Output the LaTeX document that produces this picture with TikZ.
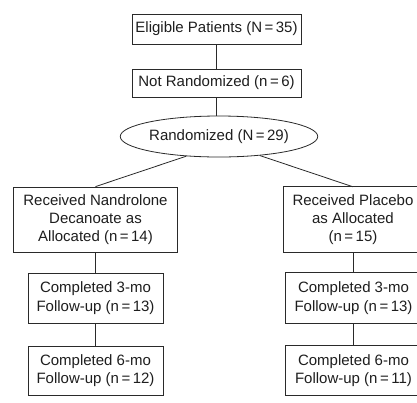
\documentclass[tikz,border=0pt]{standalone}
\usepackage{fontspec}
\setmainfont{Liberation Sans}
\usetikzlibrary{shapes.geometric}
\definecolor{inkline}{HTML}{2A2A2A}
\definecolor{inktext}{HTML}{1E1E1E}
\begin{document}
\begin{tikzpicture}[x=1pt,y=-1pt,
  every node/.style={font=\fontsize{15}{18.3}\selectfont, text=inktext, align=center, inner sep=0pt},
  boxnode/.style={draw=inkline, line width=0.8pt, rectangle},
  openbox/.style={rectangle},
  ovalnode/.style={draw=inkline, line width=0.8pt, ellipse},
  link/.style={draw=inkline, line width=0.8pt}]
\useasboundingbox (0,0) rectangle (417,402);
\clip (0,0) rectangle (417,402);
\fill[white] (0,0) rectangle (417,402);

% top of the flow
\node[boxnode, minimum width=169pt, minimum height=30pt] (elig) at (216.5,29) {Eligible Patients (N\,=\,35)};
\node[boxnode, minimum width=169pt, minimum height=28pt] (notrand) at (216.5,83) {Not Randomized (n\,=\,6)};
\node[ovalnode, minimum width=182pt, minimum height=41pt] (rand) at (219,136.5) {Randomized (N\,=\,29)};

% nandrolone arm
\node[boxnode, minimum width=164pt, minimum height=65pt] (nand) at (95.5,219.5) {Received Nandrolone\\Decanoate as\\Allocated (n\,=\,14)};
\node[boxnode, minimum width=135pt, minimum height=50pt] (nthree) at (95.5,298) {Completed 3-mo\\Follow-up (n\,=\,13)};
\node[boxnode, minimum width=135pt, minimum height=49pt] (nsix) at (95.5,370.5) {Completed 6-mo\\Follow-up (n\,=\,12)};

% placebo arm: the frames run past the right margin
\node[openbox, minimum width=138pt, minimum height=65pt] (plac) at (353,219.5) {Received Placebo\\as Allocated\\(n\,=\,15)};
\node[openbox, minimum width=136pt, minimum height=50pt] (pthree) at (353.5,298) {Completed 3-mo\\Follow-up (n\,=\,13)};
\node[openbox, minimum width=136pt, minimum height=49pt] (psix) at (353.5,370.5) {Completed 6-mo\\Follow-up (n\,=\,11)};
\draw[link] (plac.north west) rectangle ([xshift=30pt]plac.south east);
\draw[link] (pthree.north west) rectangle ([xshift=30pt]pthree.south east);
\draw[link] (psix.north west) rectangle ([xshift=30pt]psix.south east);

% connectors
\draw[link] (elig.south) -- (notrand.north);
\draw[link] (notrand.south) -- (notrand.south |- rand.north);
\draw[link] (rand.211) -- (nand.north);
\draw[link] (rand.-25) -- (plac.north);
\draw[link] (nand.south) -- (nthree.north);
\draw[link] (nthree.south) -- (nsix.north);
\draw[link] (plac.south) -- (plac.south |- pthree.north);
\draw[link] (pthree.south) -- (pthree.south |- psix.north);
\end{tikzpicture}
\end{document}
